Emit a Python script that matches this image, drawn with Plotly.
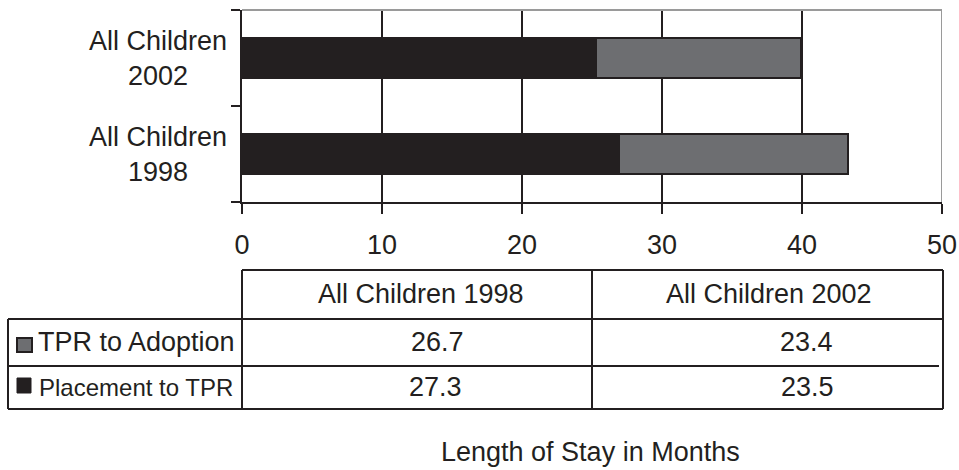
import plotly.graph_objects as go

# ---------------- data ----------------
categories = ["All Children 1998", "All Children 2002"]
category_labels = ["All Children<br>1998", "All Children<br>2002"]
placement_bar = [26.9, 25.3]      # dark segment length
adoption_bar = [16.4, 14.6]       # grey segment length
x_ticks = [0, 10, 20, 30, 40, 50]
series_names = ["TPR to Adoption", "Placement to TPR"]
tpr_to_adoption = [26.7, 23.4]    # table values
placement_to_tpr = [27.3, 23.5]   # table values
axis_title = "Length of Stay in Months"

# ---------------- helpers ----------------
W, H = 959, 470


def px(x):
    return x / W


def py(y):
    return 1 - y / H


DARK = "#231f20"
GREY = "#6d6e71"
BORDER = "#9a9a9a"
FONT = "Liberation Sans, Arial, sans-serif"
FS = 27

ypos = list(range(len(categories)))

fig = go.Figure()
fig.add_trace(go.Bar(
    y=ypos, x=placement_bar, orientation="h", width=0.42,
    name=series_names[1],
    marker=dict(color=DARK, line=dict(color=DARK, width=2)),
    showlegend=False,
))
fig.add_trace(go.Bar(
    y=ypos, x=adoption_bar, orientation="h", width=0.42,
    name=series_names[0], base=placement_bar,
    marker=dict(color=GREY, line=dict(color=DARK, width=2)),
    showlegend=False,
))

shapes = []
annotations = []

# vertical gridlines (interior ticks)
for t in x_ticks[1:-1]:
    shapes.append(dict(type="line", xref="x", yref="y domain", x0=t, x1=t, y0=0, y1=1,
                       line=dict(color=DARK, width=2), layer="below"))
# top and right borders (grey)
shapes.append(dict(type="line", xref="x", yref="y domain", x0=x_ticks[0], x1=x_ticks[-1], y0=1, y1=1,
                   line=dict(color=BORDER, width=2), layer="above"))
shapes.append(dict(type="line", xref="x", yref="y domain", x0=x_ticks[-1], x1=x_ticks[-1], y0=0, y1=1,
                   line=dict(color=BORDER, width=2), layer="above"))

# category labels
for i, lab in enumerate(category_labels):
    annotations.append(dict(text=lab, xref="paper", yref="y", x=px(229), y=ypos[i],
                            xanchor="right", yanchor="middle", align="center", showarrow=False,
                            font=dict(family=FONT, size=FS, color=DARK)))

# ---------------- data table ----------------
L, C1, C2, R = 8, 242, 592, 943
T0, T1, T2, T3 = 270, 319, 366, 409


def hline(x0, x1, y):
    shapes.append(dict(type="line", xref="paper", yref="paper", x0=px(x0), x1=px(x1),
                       y0=py(y), y1=py(y), line=dict(color=DARK, width=2)))


def vline(x, y0, y1):
    shapes.append(dict(type="line", xref="paper", yref="paper", x0=px(x), x1=px(x),
                       y0=py(y0), y1=py(y1), line=dict(color=DARK, width=2)))


hline(C1, R, T0)
hline(L, R, T1)
hline(L, R - 4, T2)
hline(L, R, T3)
vline(L, T1, T3)
vline(C1, T0, T3)
vline(C2, T0, T3)
vline(R, T0, T3)

# legend keys
shapes.append(dict(type="rect", xref="paper", yref="paper", x0=px(17), x1=px(32), y0=py(352), y1=py(338),
                   fillcolor=GREY, line=dict(color=DARK, width=2)))
shapes.append(dict(type="rect", xref="paper", yref="paper", x0=px(17), x1=px(31), y0=py(393), y1=py(378),
                   fillcolor=DARK, line=dict(color=DARK, width=1)))


def txt(s, x, y, size=FS, xanchor="center"):
    annotations.append(dict(text=s, xref="paper", yref="paper", x=px(x), y=py(y),
                            xanchor=xanchor, yanchor="middle", showarrow=False,
                            font=dict(family=FONT, size=size, color=DARK)))


txt(categories[0], 421, 294)
txt(categories[1], 769, 294)
txt(series_names[0], 36, 342, xanchor="left")
txt(series_names[1], 37, 387, size=24, xanchor="left")
txt(f"{tpr_to_adoption[0]:.1f}", 437, 342)
txt(f"{tpr_to_adoption[1]:.1f}", 806, 342)
txt(f"{placement_to_tpr[0]:.1f}", 435, 387)
txt(f"{placement_to_tpr[1]:.1f}", 807, 387)
txt(axis_title, 590, 452)

fig.update_layout(
    template="none",
    width=W, height=H,
    margin=dict(l=0, r=0, t=0, b=0, pad=0),
    paper_bgcolor="white", plot_bgcolor="white",
    barmode="overlay",
    bargap=0,
    showlegend=False,
    shapes=shapes,
    annotations=annotations,
    font=dict(family=FONT, size=FS, color=DARK),
    xaxis=dict(
        domain=[px(242), px(942)], range=[x_ticks[0], x_ticks[-1]],
        tickvals=x_ticks, ticktext=[str(t) for t in x_ticks],
        ticks="outside", ticklen=10, tickwidth=2, tickcolor=DARK,
        showline=True, linecolor=DARK, linewidth=2,
        showgrid=False, zeroline=False, automargin=False,
        tickfont=dict(family=FONT, size=FS, color=DARK),
        ticklabelstandoff=8,
        fixedrange=True,
    ),
    yaxis=dict(
        domain=[py(202), py(10)], range=[-0.5, len(categories) - 0.5],
        tickvals=[i - 0.5 for i in range(len(categories) + 1)],
        ticks="outside", ticklen=9, tickwidth=2, tickcolor=DARK,
        showticklabels=False,
        showline=True, linecolor=DARK, linewidth=2,
        showgrid=False, zeroline=False, automargin=False,
        fixedrange=True,
    ),
)

fig.write_html(
    "out.html",
    config={"displayModeBar": False},
    post_script="document.body.style.margin='0';document.body.style.overflow='hidden';",
)
